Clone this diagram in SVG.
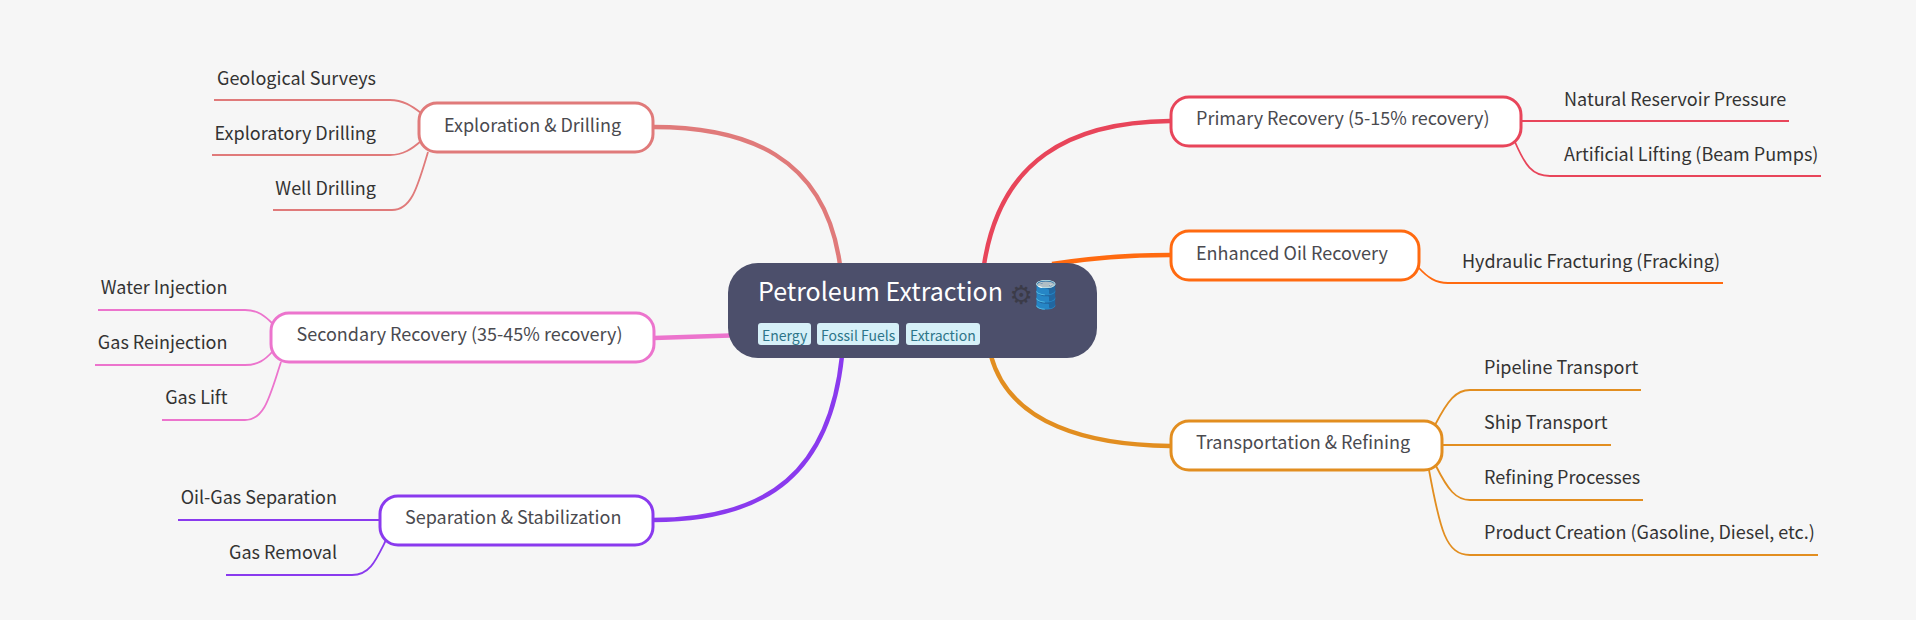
<svg xmlns="http://www.w3.org/2000/svg" width="1916" height="620" viewBox="0 0 1916 620">
<style>
text{font-family:"Noto Sans CJK SC","Noto Sans",sans-serif}
.n{fill:#fff;stroke-width:3}
.nt{font-size:18px;fill:#4a4a4f}
.ct{font-size:18px;fill:#333}
.e{fill:none}
.m{stroke-width:4.4}
.c{stroke-width:1.8}
.tag{fill:#d6f0f8}
.tt{font-size:14px;fill:#2d7589}
.a{stroke:#e07a7a}.b{stroke:#ec74cd}.d{stroke:#8a3aee}.f{stroke:#e8455a}.g{stroke:#ff6a10}.h{stroke:#e28e20}
</style>
<rect width="1916" height="620" fill="#f6f6f6"/>
<g id="connectors" class="e">
<path class="m a" d="M653 127C745 127 825 155 840 265"/>
<path class="m b" d="M654 338L730 335.500"/>
<path class="m d" d="M653 520C770 520 830 470 842 356"/>
<path class="m f" d="M1170 121C1070 122 1000 160 984 265"/>
<path class="m g" d="M1170 255C1130 255 1090 258 1052 264"/>
<path class="m h" d="M1170 446C1090 445 1010 425 991 356"/>
<path class="c a" d="M214 100H390C403 100 412 106 421 113"/>
<path class="c a" d="M212 155H390C403 155 412 149 421 141"/>
<path class="c a" d="M273 210H392C412 210 418 185 428 152"/>
<path class="c b" d="M98 310H245C258 310 265 316 273 324"/>
<path class="c b" d="M95 365H245C258 365 265 360 273 351"/>
<path class="c b" d="M162 420H245C265 420 270 395 281 362"/>
<path class="c d" d="M178 520H381"/>
<path class="c d" d="M226 575H352C370 575 376 560 386 540"/>
<path class="c f" d="M1520 121H1789"/>
<path class="c f" d="M1515 142C1525 165 1532 176 1550 176H1821"/>
<path class="c g" d="M1418 267C1428 278 1436 283 1448 283H1723"/>
<path class="c h" d="M1435 425C1448 400 1456 390 1470 390H1641"/>
<path class="c h" d="M1441 445H1611"/>
<path class="c h" d="M1436 466C1448 490 1456 500 1470 500H1643"/>
<path class="c h" d="M1429 470C1440 530 1446 555 1470 555H1818"/>
</g>
<g id="root">
<rect x="728" y="263" width="369" height="95" rx="30" fill="#4c4f6b"/>
<text x="758" y="301" font-size="25" fill="#fff">Petroleum Extraction</text>
<text x="1009.500" y="304" font-size="26" fill="#3b3b48" style="font-family:'DejaVu Sans',sans-serif">⚙&#xFE0E;</text>
<text x="1029" y="303.500" font-size="27">🛢️</text>
<rect class="tag" x="758" y="323" width="53" height="22" rx="3"/><text class="tt" x="762" y="341">Energy</text>
<rect class="tag" x="817" y="323" width="82" height="22" rx="3"/><text class="tt" x="821" y="341">Fossil Fuels</text>
<rect class="tag" x="906" y="323" width="74" height="22" rx="3"/><text class="tt" x="910" y="341">Extraction</text>
</g>
<g id="n-exploration"><rect class="n a" x="419" y="103" width="234" height="49" rx="18"/><text class="nt" x="444" y="131.5">Exploration &amp; Drilling</text></g>
<g id="n-secondary"><rect class="n b" x="271" y="313" width="383" height="49" rx="18"/><text class="nt" x="296.500" y="341">Secondary Recovery (35-45% recovery)</text></g>
<g id="n-separation"><rect class="n d" x="380" y="496" width="273" height="49" rx="18"/><text class="nt" x="405" y="524">Separation &amp; Stabilization</text></g>
<g id="n-primary"><rect class="n f" x="1171" y="97" width="350" height="49" rx="18"/><text class="nt" x="1196" y="125">Primary Recovery (5-15% recovery)</text></g>
<g id="n-enhanced"><rect class="n g" x="1171" y="231" width="248" height="49" rx="18"/><text class="nt" x="1196" y="260">Enhanced Oil Recovery</text></g>
<g id="n-transport"><rect class="n h" x="1171" y="421" width="271" height="49" rx="18"/><text class="nt" x="1196" y="449">Transportation &amp; Refining</text></g>
<g id="c-geo"><text class="ct" x="376" y="85" text-anchor="end">Geological Surveys</text></g>
<g id="c-expl"><text class="ct" x="376" y="140" text-anchor="end">Exploratory Drilling</text></g>
<g id="c-well"><text class="ct" x="376" y="195" text-anchor="end">Well Drilling</text></g>
<g id="c-water"><text class="ct" x="227.500" y="294" text-anchor="end">Water Injection</text></g>
<g id="c-gasr"><text class="ct" x="227.500" y="349" text-anchor="end">Gas Reinjection</text></g>
<g id="c-lift"><text class="ct" x="227.500" y="404" text-anchor="end">Gas Lift</text></g>
<g id="c-oil"><text class="ct" x="337" y="504" text-anchor="end">Oil-Gas Separation</text></g>
<g id="c-rem"><text class="ct" x="337" y="559" text-anchor="end">Gas Removal</text></g>
<g id="c-nat"><text class="ct" x="1564" y="106">Natural Reservoir Pressure</text></g>
<g id="c-art"><text class="ct" x="1564" y="161">Artificial Lifting (Beam Pumps)</text></g>
<g id="c-hyd"><text class="ct" x="1462" y="268">Hydraulic Fracturing (Fracking)</text></g>
<g id="c-pipe"><text class="ct" x="1484" y="374">Pipeline Transport</text></g>
<g id="c-ship"><text class="ct" x="1484" y="429">Ship Transport</text></g>
<g id="c-ref"><text class="ct" x="1484" y="484">Refining Processes</text></g>
<g id="c-prod"><text class="ct" x="1484" y="539">Product Creation (Gasoline, Diesel, etc.)</text></g>
</svg>
